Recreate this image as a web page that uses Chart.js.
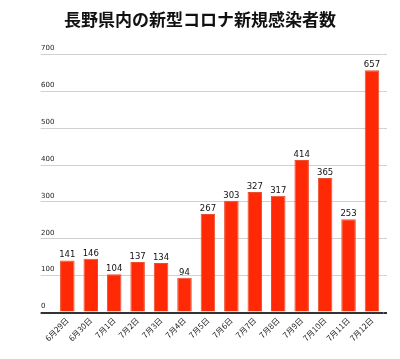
<!DOCTYPE html>
<html><head><meta charset="utf-8">
<script src="https://cdn.jsdelivr.net/npm/chart.js@4"></script>
<style>html,body{margin:0;padding:0;background:#fff}#wrap{width:400px;height:359px}</style>
</head><body><div id="wrap"><canvas id="c" width="400" height="359"></canvas></div>
<script>
const categories = ["6月29日","6月30日","7月1日","7月2日","7月3日","7月4日","7月5日","7月6日","7月7日","7月8日","7月9日","7月10日","7月11日","7月12日"];
const cases = [141,146,104,137,134,94,267,303,327,317,414,365,253,657];
const yTicks = [0,100,200,300,400,500,600,700];
const titleText = "長野県内の新型コロナ新規感染者数";

const valueLabels = {
  id: 'valueLabels',
  afterDatasetsDraw(chart) {
    const ctx = chart.ctx;
    const meta = chart.getDatasetMeta(0);
    ctx.save();
    ctx.font = '8.5px "DejaVu Sans", sans-serif';
    ctx.fillStyle = '#111';
    ctx.textAlign = 'center';
    ctx.textBaseline = 'bottom';
    meta.data.forEach((bar, i) => {
      ctx.fillText(String(cases[i]), bar.x, bar.y - 1);
    });
    ctx.restore();
  }
};

const pageTitle = {
  id: 'pageTitle',
  afterDraw(chart) {
    const ctx = chart.ctx;
    ctx.save();
    ctx.font = 'bold 17px "Noto Sans CJK JP", sans-serif';
    ctx.fillStyle = '#111';
    ctx.textAlign = 'center';
    ctx.textBaseline = 'middle';
    ctx.fillText(titleText, chart.width / 2, 19.5);
    ctx.restore();
  }
};

const gridColor = c => c.tick && c.tick.value === 0 ? '#333' : '#d0d0d0';
const gridWidth = c => c.tick && c.tick.value === 0 ? 2 : 1;

new Chart(document.getElementById('c'), {
  type: 'bar',
  data: {
    labels: categories,
    datasets: [{
      data: cases,
      backgroundColor: '#ff2a05',
      borderColor: '#e8502e',
      borderWidth: {left: 1, right: 1, top: 1, bottom: 0},
      categoryPercentage: 0.62,
      barPercentage: 1
    }]
  },
  options: {
    responsive: false,
    animation: false,
    layout: {padding: {left: 41, right: 13, top: 54.5, bottom: 0}},
    plugins: {
      legend: {display: false},
      tooltip: {enabled: false},
      title: {display: false}
    },
    scales: {
      x: {
        grid: {display: false, drawTicks: false},
        border: {display: false},
        ticks: {
          color: '#222',
          font: {family: '"Noto Sans CJK JP", sans-serif', size: 8},
          minRotation: 45, maxRotation: 45,
          padding: 3,
          autoSkip: false
        },
        afterFit(s) { s.height = 46.5; }
      },
      y: {
        min: 0, max: 700,
        afterBuildTicks(s) { s.ticks = yTicks.map(v => ({value: v})); },
        grid: {color: gridColor, lineWidth: gridWidth, tickLength: 15, drawTicks: true},
        border: {display: false},
        ticks: {
          color: '#222',
          font: {family: '"DejaVu Sans", sans-serif', size: 7},
          crossAlign: 'far',
          labelOffset: -6,
          padding: 0
        },
        afterFit(s) { s.width = 14.6; }
      },
      y2: {
        position: 'right',
        min: 0, max: 700,
        afterBuildTicks(s) { s.ticks = yTicks.map(v => ({value: v})); },
        grid: {color: gridColor, lineWidth: gridWidth, tickLength: 3.3, drawOnChartArea: false},
        border: {display: false},
        ticks: {display: false},
        afterFit(s) { s.width = 3.3; }
      }
    }
  },
  plugins: [valueLabels, pageTitle]
});
</script>
</body></html>
